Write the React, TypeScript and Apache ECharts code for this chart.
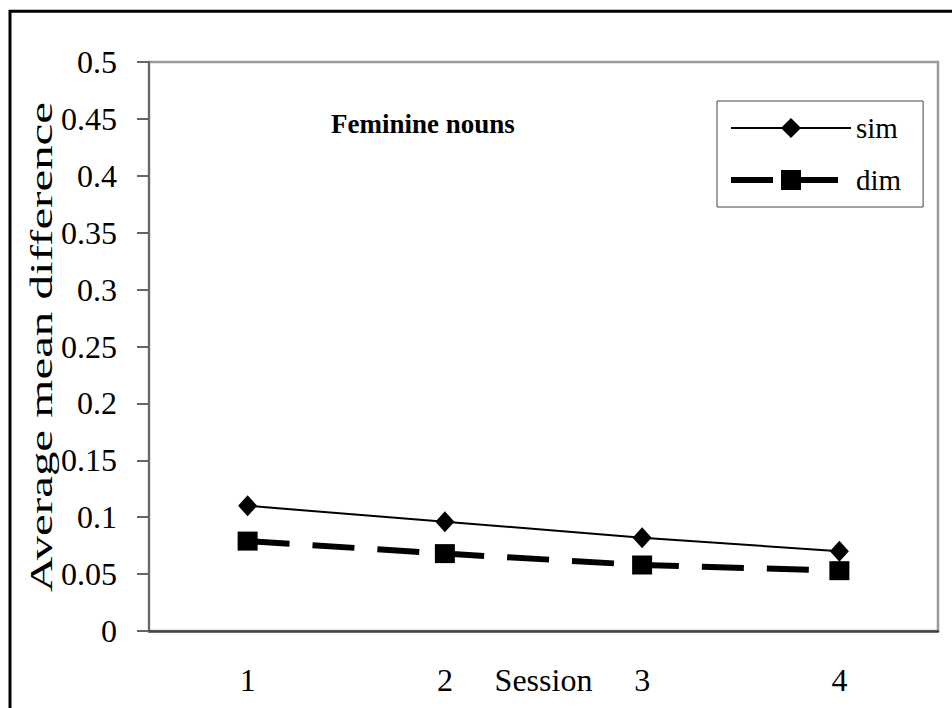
import React, { useEffect, useRef } from "react";
import * as echarts from "echarts";

const sessions = ["1", "2", "3", "4"];
const simValues = [0.11, 0.096, 0.082, 0.07];
const dimValues = [0.079, 0.068, 0.058, 0.053];
const yTickLabels = ["0", "0.05", "0.1", "0.15", "0.2", "0.25", "0.3", "0.35", "0.4", "0.45", "0.5"];
const seriesNames = ["sim", "dim"];
const chartTitle = "Feminine nouns";
const xAxisName = "Session";
const yAxisName = "Average mean difference";

const FONT = "'Liberation Serif', 'Times New Roman', serif";

export default function App() {
  const ref = useRef<HTMLDivElement>(null);
  useEffect(() => {
    if (!ref.current) return;
    const chart = echarts.init(ref.current, null, { renderer: "svg", width: 952, height: 708 });
    chart.setOption({
      animation: false,
      backgroundColor: "#fff",
      textStyle: { fontFamily: FONT },
      title: {
        text: chartTitle,
        left: 331,
        top: 110,
        padding: 0,
        textStyle: { fontFamily: FONT, fontSize: 27, fontWeight: "bold", color: "#000" },
      },
      legend: {
        data: [
          { name: seriesNames[0], lineStyle: { color: "#000", width: 2, type: "solid" } },
          { name: seriesNames[1], lineStyle: { color: "#000", width: 6, type: [42, 23] } },
        ],
        orient: "vertical",
        left: 717,
        top: 101,
        itemWidth: 120,
        itemHeight: 25,
        itemGap: 22,
        padding: [12, 22, 12, 11],
        borderColor: "#444",
        borderWidth: 1,
        backgroundColor: "#fff",
        textStyle: { fontFamily: FONT, fontSize: 29, lineHeight: 30, color: "#000" },
      },
      grid: {
        left: 149,
        top: 62,
        right: 14,
        bottom: 77,
        show: true,
        borderColor: "#999",
        borderWidth: 2.5,
        backgroundColor: "transparent",
        containLabel: false,
        outerBoundsMode: "none",
      },
      xAxis: {
        type: "category",
        data: sessions,
        boundaryGap: true,
        name: xAxisName,
        nameLocation: "middle",
        nameGap: 33,
        nameMoveOverlap: false,
        nameTextStyle: { fontFamily: FONT, fontSize: 32, color: "#000", lineHeight: 32 },
        axisLine: { show: true, lineStyle: { color: "#444", width: 2.5 } },
        axisTick: { show: false },
        axisLabel: { margin: 33, fontFamily: FONT, fontSize: 32, lineHeight: 32, color: "#000" },
        splitLine: { show: false },
      },
      yAxis: {
        type: "value",
        min: 0,
        max: 0.5,
        interval: 0.05,
        axisLine: { show: true, lineStyle: { color: "#666", width: 2 } },
        axisTick: { show: true, inside: false, length: 12, lineStyle: { color: "#666", width: 2 } },
        axisLabel: {
          margin: 32,
          fontFamily: FONT,
          fontSize: 32,
          color: "#000",
          formatter: (v: number) => yTickLabels[Math.round(v / 0.05)],
        },
        splitLine: { show: false },
      },
      graphic: [
        {
          type: "rect",
          shape: { x: 10, y: 11.3, width: 1200, height: 1000 },
          style: { fill: "none", stroke: "#000", lineWidth: 3 },
          silent: true,
          z: 100,
        },
        {
          type: "text",
          x: 41,
          y: 347,
          rotation: Math.PI / 2,
          scaleX: 1.58,
          style: {
            text: yAxisName,
            fontFamily: FONT,
            fontSize: 31,
            fill: "#000",
            align: "center",
            verticalAlign: "middle",
            textAlign: "center",
            textVerticalAlign: "middle",
          },
        },
      ],
      series: [
        {
          name: seriesNames[0],
          type: "line",
          data: simValues,
          symbol: "diamond",
          symbolSize: [19, 21],
          lineStyle: { color: "#000", width: 2 },
          itemStyle: { color: "#000" },
          z: 3,
        },
        {
          name: seriesNames[1],
          type: "line",
          data: dimValues,
          symbol: "rect",
          symbolSize: [20, 19],
          lineStyle: { color: "#000", width: 6, type: [42, 23] },
          itemStyle: { color: "#000" },
          z: 2,
        },
      ],
    });
    return () => chart.dispose();
  }, []);
  return (
    <div
      ref={ref}
      style={{ position: "absolute", left: 0, top: 0, width: 952, height: 708 }}
    />
  );
}
